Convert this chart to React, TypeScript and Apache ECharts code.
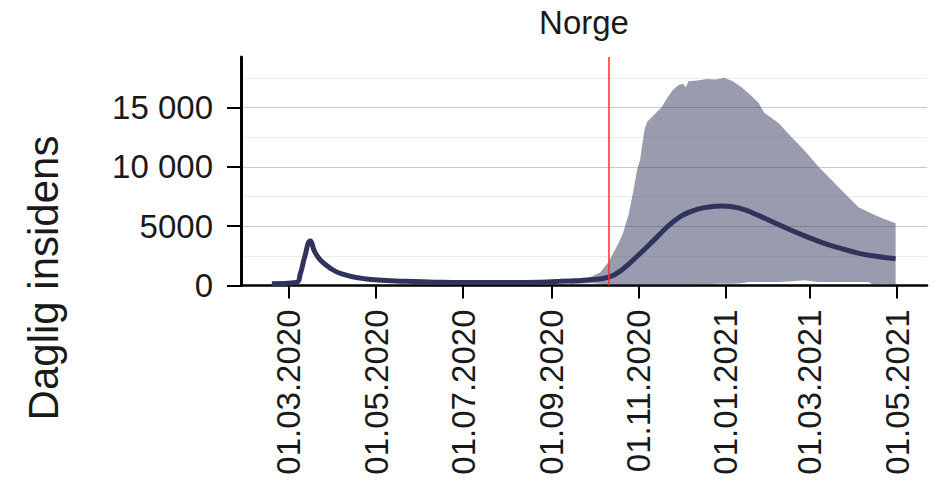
import React, { useEffect, useRef } from "react";
import * as echarts from "echarts";

const medianDates = [
  "2020-02-18", "2020-03-06", "2020-03-09", "2020-03-12", "2020-03-16", "2020-03-19",
  "2020-03-23", "2020-03-30", "2020-04-07", "2020-04-21", "2020-05-05", "2020-05-22",
  "2020-06-07", "2020-07-01", "2020-08-01", "2020-08-24", "2020-09-07", "2020-09-21",
  "2020-09-28", "2020-10-11", "2020-10-21", "2020-11-02", "2020-11-14", "2020-11-25",
  "2020-12-07", "2020-12-19", "2020-12-30", "2021-01-11", "2021-01-23", "2021-02-03",
  "2021-02-15", "2021-02-27", "2021-03-10", "2021-03-22", "2021-04-03", "2021-04-14",
  "2021-04-30",
];
const medianValues = [
  150, 250, 1000, 2400, 3750, 2850,
  2150, 1450, 970, 600, 450, 350,
  300, 250, 250, 280, 350, 430,
  480, 700, 1400, 2700, 4100, 5350,
  6200, 6600, 6700, 6500, 5950, 5350,
  4700, 4100, 3600, 3150, 2750, 2500,
  2250,
];

const bandDates = [
  "2020-09-14", "2020-09-21", "2020-09-28", "2020-10-05", "2020-10-11", "2020-10-15",
  "2020-10-18", "2020-10-21", "2020-10-25", "2020-10-28", "2020-10-31", "2020-11-02",
  "2020-11-05", "2020-11-07", "2020-11-12", "2020-11-17", "2020-11-21", "2020-11-25",
  "2020-11-29", "2020-12-02", "2020-12-04", "2020-12-06", "2020-12-12", "2020-12-19",
  "2020-12-25", "2020-12-31", "2021-01-06", "2021-01-12", "2021-01-17", "2021-01-24",
  "2021-01-28", "2021-02-07", "2021-02-16", "2021-02-25", "2021-03-07", "2021-03-16",
  "2021-03-25", "2021-04-04", "2021-04-11", "2021-04-15", "2021-04-22", "2021-04-30",
];
const bandUpper = [
  250, 420, 700, 1100, 2000, 2900,
  3600, 4400, 6000, 7800, 9800, 10600,
  13100, 13800, 14400, 15000, 15800, 16500,
  16900, 17000, 16700, 17200, 17260, 17400,
  17350, 17500, 17200, 16700, 16200, 15400,
  14550, 13700, 12500, 11400, 10000, 8900,
  7800, 6600, 6200, 5950, 5600, 5250,
];
const bandLower = [
  100, 150, 200, 150, 50, 20,
  20, 20, 20, 20, 20, 20,
  20, 20, 20, 20, 20, 20,
  20, 20, 20, 20, 20, 100,
  150, 150, 150, 200, 300, 300,
  300, 300, 350, 450, 300, 300,
  300, 300, 300, 30, 30, 30,
];

const xTickDates = [
  "2020-03-01", "2020-05-01", "2020-07-01", "2020-09-01",
  "2020-11-01", "2021-01-01", "2021-03-01", "2021-05-01",
];
const yTickValues = [0, 5000, 10000, 15000];
const markerDate = "2020-10-11";
const titleText = "Norge";
const yAxisName = "Daglig insidens";

const FONT = "Liberation Sans, Arial, Helvetica, sans-serif";
const DAY = 86400000;

function toT(s: string): number {
  const [y, m, d] = s.split("-").map(Number);
  return Date.UTC(y, m - 1, d);
}
function fmtDate(v: number): string {
  const d = new Date(v);
  const dd = String(d.getUTCDate()).padStart(2, "0");
  const mm = String(d.getUTCMonth() + 1).padStart(2, "0");
  return `${dd}.${mm}.${d.getUTCFullYear()}`;
}
function fmtNum(v: number): string {
  if (v >= 10000) {
    const s = String(Math.round(v));
    return s.slice(0, s.length - 3) + " " + s.slice(s.length - 3);
  }
  return String(Math.round(v));
}

export default function App() {
  const ref = useRef<HTMLDivElement>(null);
  useEffect(() => {
    document.body.style.margin = "0";
    if (!ref.current) return;
    const chart = echarts.init(ref.current, undefined, { renderer: "svg" });
    const xMin = toT("2020-03-01") - 33.6 * DAY;
    const xMax = toT("2021-05-01") + 21 * DAY;
    const xTicks = xTickDates.map(toT);

    const option: any = {
      animation: false,
      backgroundColor: "#ffffff",
      textStyle: { fontFamily: FONT },
      grid: { left: 241, right: 8, top: 57, bottom: 196.5, containLabel: false },
      graphic: [
        {
          type: "text",
          x: 584,
          y: 22,
          style: {
            text: titleText,
            fontSize: 33,
            fontFamily: FONT,
            fill: "#1a1a1a",
            textAlign: "center",
            textVerticalAlign: "middle",
          },
        },
        {
          type: "text",
          x: 43,
          y: 278,
          rotation: Math.PI / 2,
          style: {
            text: yAxisName,
            fontSize: 42,
            fontFamily: FONT,
            fill: "#1a1a1a",
            textAlign: "center",
            textVerticalAlign: "middle",
          },
        },
      ],
      xAxis: {
        type: "value",
        min: xMin,
        max: xMax,
        axisLine: { show: true, lineStyle: { color: "#000", width: 2.5 } },
        axisTick: {
          show: true,
          customValues: xTicks,
          length: 13,
          lineStyle: { color: "#000", width: 2 },
        },
        axisLabel: {
          customValues: xTicks,
          rotate: 90,
          margin: 24,
          fontSize: 33,
          fontFamily: FONT,
          color: "#1a1a1a",
          formatter: (v: number) => fmtDate(v),
        },
        splitLine: { show: false },
      },
      yAxis: [
        {
          type: "value",
          min: 0,
          max: 19250,
          interval: 2500,
          axisLine: { show: false },
          axisTick: { show: false },
          axisLabel: { show: false },
          splitLine: {
            show: true,
            showMaxLine: false,
            lineStyle: { color: ["#c9c9c9", "#ececec"], width: 1 },
          },
        },
        {
          type: "value",
          min: 0,
          max: 19250,
          position: "left",
          axisLine: { show: true, lineStyle: { color: "#000", width: 3 } },
          axisTick: {
            show: true,
            customValues: yTickValues,
            length: 14,
            lineStyle: { color: "#000", width: 2 },
          },
          axisLabel: {
            customValues: yTickValues,
            margin: 28,
            fontSize: 33,
            fontFamily: FONT,
            color: "#1a1a1a",
            formatter: (v: number) => fmtNum(v),
          },
          splitLine: { show: false },
        },
      ],
      series: [
        {
          name: "band",
          type: "custom",
          yAxisIndex: 0,
          silent: true,
          encode: { x: 0, y: [1, 2] },
          data: bandDates.map((d, i) => [toT(d), bandLower[i], bandUpper[i]]),
          renderItem: (params: any, api: any) => {
            if (params.dataIndex !== 0) return null;
            const top = bandDates.map((d, i) => api.coord([toT(d), bandUpper[i]]));
            const bottom = bandDates
              .map((d, i) => api.coord([toT(d), bandLower[i]]))
              .reverse();
            return {
              type: "polygon",
              shape: { points: top.concat(bottom) },
              style: { fill: "rgba(52,55,95,0.5)" },
            };
          },
        },
        {
          name: "median",
          type: "line",
          yAxisIndex: 0,
          symbol: "none",
          smooth: 0.5,
          lineStyle: { color: "#30335c", width: 5 },
          data: medianDates.map((d, i) => [toT(d), medianValues[i]]),
          markLine: {
            silent: true,
            symbol: ["none", "none"],
            label: { show: false },
            z: 10,
            lineStyle: { color: "#ff2a2a", width: 1.5, type: "solid" },
            data: [{ xAxis: toT(markerDate) }],
          },
        },
      ],
    };
    chart.setOption(option);
    return () => chart.dispose();
  }, []);
  return <div ref={ref} style={{ width: 935, height: 482 }} />;
}
